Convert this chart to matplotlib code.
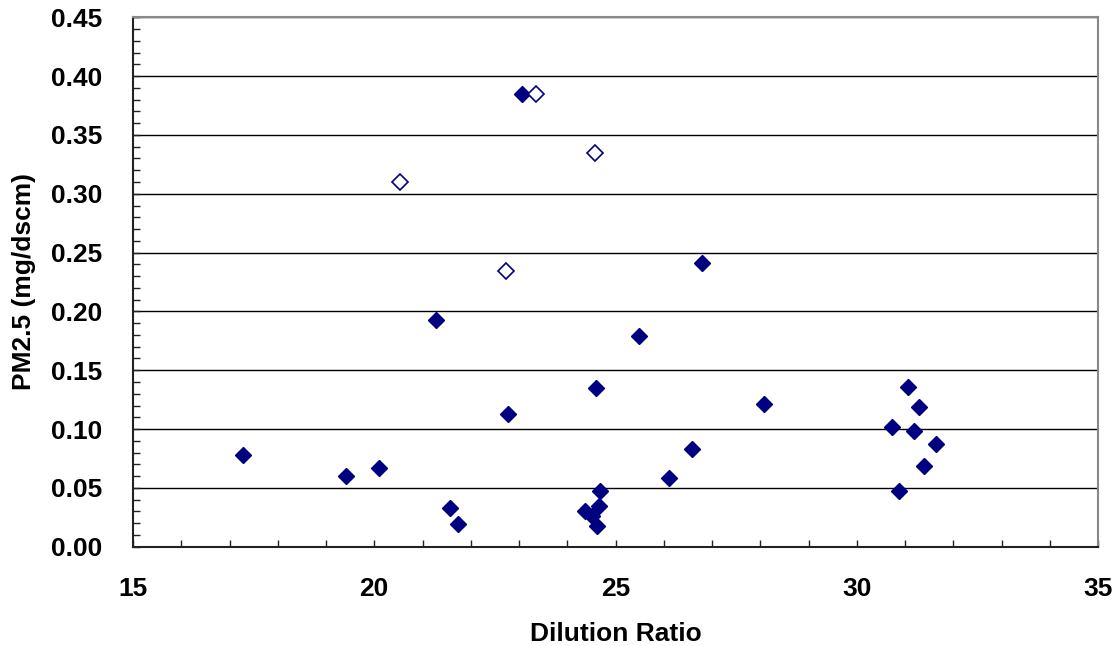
import matplotlib
matplotlib.use("Agg")
import matplotlib.pyplot as plt
from matplotlib.ticker import MultipleLocator, FormatStrFormatter

# Filled diamonds
filled_x = [17.28, 19.42, 20.10, 21.58, 21.74, 21.29, 22.78, 23.07,
            24.37, 24.52, 24.65, 24.67, 24.61, 24.59, 25.48, 26.10,
            26.58, 26.80, 28.08, 30.73, 30.87, 31.07, 31.19, 31.30,
            31.39, 31.65]
filled_y = [0.078, 0.060, 0.067, 0.033, 0.019, 0.193, 0.113, 0.385,
            0.030, 0.026, 0.035, 0.047, 0.018, 0.135, 0.179, 0.058,
            0.083, 0.241, 0.121, 0.102, 0.047, 0.136, 0.098, 0.119,
            0.069, 0.087]

# Open diamonds
open_x = [20.53, 23.36, 24.57, 22.73]
open_y = [0.310, 0.385, 0.335, 0.234]

x_label = "Dilution Ratio"
y_label = "PM2.5 (mg/dscm)"

plt.rcParams['font.family'] = ['Liberation Sans', 'DejaVu Sans']
plt.rcParams['font.weight'] = 'bold'

fig = plt.figure(figsize=(11.19, 6.46), dpi=100)
ax = fig.add_axes([133/1119, 1 - 546.7/646, (1098 - 133)/1119, (546.7 - 17.3)/646])

navy = '#000080'
ax.set_axisbelow(True)
ax.yaxis.grid(True, which='major', color='black', linewidth=1.0)

ax.plot(filled_x, filled_y, linestyle='none', marker='D', markersize=8.6,
        markerfacecolor=navy, markeredgecolor=navy, markeredgewidth=1.0, zorder=3)
ax.plot(open_x, open_y, linestyle='none', marker='D', markersize=8.2,
        markerfacecolor='white', markeredgecolor=navy, markeredgewidth=1.2, zorder=3)

ax.set_xlim(15, 35)
ax.set_ylim(0, 0.45)
ax.xaxis.set_major_locator(MultipleLocator(5))
ax.xaxis.set_minor_locator(MultipleLocator(1))
ax.yaxis.set_major_locator(MultipleLocator(0.05))
ax.yaxis.set_minor_locator(MultipleLocator(0.01))
ax.yaxis.set_major_formatter(FormatStrFormatter('%.2f'))

ax.tick_params(axis='both', which='both', direction='in', length=5, width=1,
               color='#222222')
ax.tick_params(axis='x', which='major', labelsize=19, pad=22)
ax.tick_params(axis='y', which='major', labelsize=19, pad=22)

for s in ['left', 'bottom']:
    ax.spines[s].set_color('#222222')
    ax.spines[s].set_linewidth(1.5)
for s in ['top', 'right']:
    ax.spines[s].set_color('#888888')
    ax.spines[s].set_linewidth(1.5)

ax.set_xlabel(x_label, fontsize=19, fontweight='bold')
ax.set_ylabel(y_label, fontsize=19, fontweight='bold')
ax.xaxis.set_label_coords(0.5, -0.142)
ax.yaxis.set_label_coords(-0.113, 0.5)
ax.yaxis.label.set_verticalalignment('center')

fig.savefig('out.png', dpi=100)
